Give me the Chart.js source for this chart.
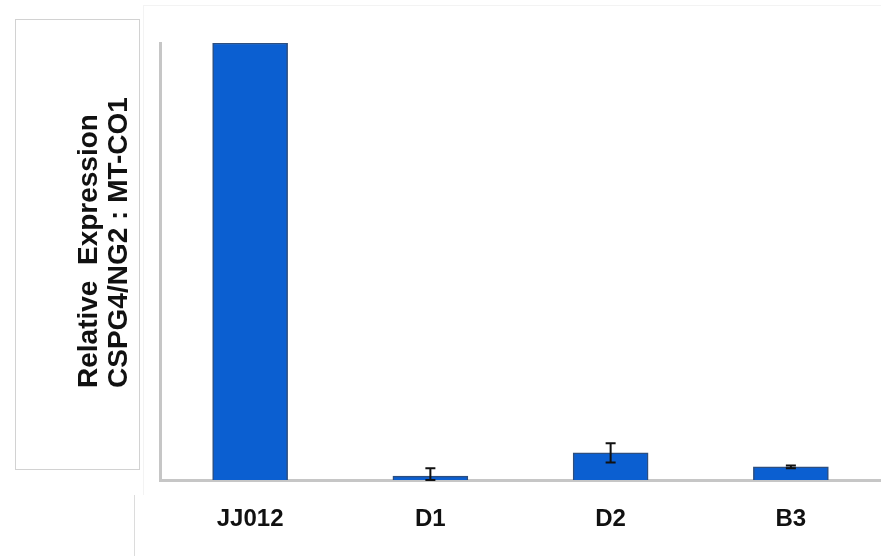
<!DOCTYPE html>
<html>
<head>
<meta charset="utf-8">
<script src="https://cdn.jsdelivr.net/npm/chart.js@4/dist/chart.umd.min.js"></script>
<style>
  html, body { margin: 0; padding: 0; background: #fff; }
  #wrap { width: 881px; height: 556px; }
</style>
</head>
<body>
<div id="wrap"><canvas id="chart" width="881" height="556"></canvas></div>
<script>
// Relative expression values and their error bars
const samples = ['JJ012', 'D1', 'D2', 'B3'];
const expression = [1.0, 0.009, 0.062, 0.030];
const errors = [0, 0.018, 0.022, 0.003];
const titleLines = ['Relative  Expression', 'CSPG4/NG2 : MT-CO1'];

// frame, faint guide lines and the rotated axis title on the left
const sidePanel = {
    id: 'sidePanel',
    beforeDraw(chart) {
        const ctx = chart.ctx;
        ctx.save();
        ctx.fillStyle = '#fff';
        ctx.fillRect(0, 0, chart.width, chart.height);

        ctx.lineWidth = 1;
        ctx.strokeStyle = '#f3f3f3';
        ctx.beginPath();
        ctx.moveTo(143.5, 5);
        ctx.lineTo(143.5, 495);
        ctx.moveTo(143, 5.5);
        ctx.lineTo(chart.width, 5.5);
        ctx.stroke();

        ctx.strokeStyle = '#dcdcdc';
        ctx.beginPath();
        ctx.moveTo(134.5, 495);
        ctx.lineTo(134.5, chart.height);
        ctx.stroke();

        ctx.strokeStyle = '#d2d2d2';
        ctx.strokeRect(15.5, 19.5, 124, 450);

        ctx.translate(0, 388);
        ctx.rotate(-Math.PI / 2);
        ctx.fillStyle = '#111';
        ctx.font = 'bold 28px "Liberation Sans", Arial, sans-serif';
        ctx.textAlign = 'left';
        ctx.textBaseline = 'alphabetic';
        ctx.fillText(titleLines[0], 0, 97);
        ctx.fillText(titleLines[1], 0, 127);
        ctx.restore();
    }
};

// standard error whiskers on top of the bars
const errorBars = {
    id: 'errorBars',
    afterDatasetsDraw(chart) {
        const ctx = chart.ctx;
        const y = chart.scales.y;
        const meta = chart.getDatasetMeta(0);
        ctx.save();
        ctx.strokeStyle = '#111';
        ctx.lineWidth = 2;
        meta.data.forEach((bar, i) => {
            if (!errors[i]) return;
            const top = y.getPixelForValue(expression[i] + errors[i]);
            const bot = y.getPixelForValue(Math.max(expression[i] - errors[i], 0));
            ctx.beginPath();
            ctx.moveTo(bar.x, top);
            ctx.lineTo(bar.x, bot);
            ctx.moveTo(bar.x - 5, top);
            ctx.lineTo(bar.x + 5, top);
            ctx.moveTo(bar.x - 5, bot);
            ctx.lineTo(bar.x + 5, bot);
            ctx.stroke();
        });
        ctx.restore();
    }
};

new Chart(document.getElementById('chart'), {
    type: 'bar',
    data: {
        labels: samples,
        datasets: [{
            data: expression,
            backgroundColor: '#0b5fd1',
            borderColor: '#2d4e7e',
            borderWidth: 1.5,
            barThickness: 75
        }]
    },
    options: {
        responsive: false,
        animation: false,
        layout: { padding: { left: 160, top: 43, right: 0, bottom: 0 } },
        plugins: {
            legend: { display: false },
            tooltip: { enabled: false }
        },
        scales: {
            x: {
                grid: { display: false },
                border: { display: true, color: '#c6c6c6', width: 3 },
                ticks: {
                    color: '#111',
                    padding: 17,
                    font: { family: '"Liberation Sans", Arial, sans-serif', size: 24, weight: 'bold' }
                },
                afterFit(scale) { scale.height = 76; }
            },
            y: {
                min: 0,
                max: 1.0,
                grid: { display: false },
                border: { display: true, color: '#c6c6c6', width: 3 },
                ticks: { display: false },
                afterFit(scale) { scale.width = 0; }
            }
        }
    },
    plugins: [sidePanel, errorBars]
});
</script>
</body>
</html>
